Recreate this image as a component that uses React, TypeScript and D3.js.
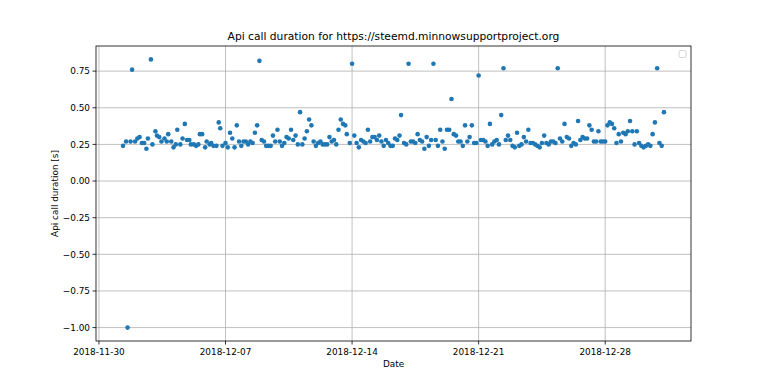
import React from "react";
import * as d3 from "d3";

const times: string[] = [
  "2018-12-01T08","2018-12-01T12","2018-12-01T14","2018-12-01T18","2018-12-01T20",
  "2018-12-02T00","2018-12-02T03","2018-12-02T06","2018-12-02T09","2018-12-02T12","2018-12-02T15","2018-12-02T17","2018-12-02T21","2018-12-02T23",
  "2018-12-03T03","2018-12-03T05","2018-12-03T08","2018-12-03T11","2018-12-03T15","2018-12-03T18","2018-12-03T20",
  "2018-12-04T00","2018-12-04T03","2018-12-04T06","2018-12-04T08","2018-12-04T12","2018-12-04T15","2018-12-04T18","2018-12-04T21",
  "2018-12-05T00","2018-12-05T02","2018-12-05T06","2018-12-05T09","2018-12-05T12","2018-12-05T14","2018-12-05T17","2018-12-05T21","2018-12-05T23",
  "2018-12-06T03","2018-12-06T05","2018-12-06T08","2018-12-06T12","2018-12-06T15","2018-12-06T17","2018-12-06T20",
  "2018-12-07T00","2018-12-07T03","2018-12-07T06","2018-12-07T09","2018-12-07T12","2018-12-07T15","2018-12-07T18","2018-12-07T21",
  "2018-12-08T00","2018-12-08T03","2018-12-08T06","2018-12-08T09","2018-12-08T12","2018-12-08T15","2018-12-08T18","2018-12-08T21",
  "2018-12-09T00","2018-12-09T03","2018-12-09T06","2018-12-09T09","2018-12-09T12","2018-12-09T15","2018-12-09T18","2018-12-09T21",
  "2018-12-10T00","2018-12-10T03","2018-12-10T06","2018-12-10T09","2018-12-10T12","2018-12-10T15","2018-12-10T18","2018-12-10T21",
  "2018-12-11T00","2018-12-11T03","2018-12-11T06","2018-12-11T09","2018-12-11T12","2018-12-11T15","2018-12-11T18","2018-12-11T21",
  "2018-12-12T00","2018-12-12T03","2018-12-12T06","2018-12-12T09","2018-12-12T12","2018-12-12T15","2018-12-12T18","2018-12-12T21",
  "2018-12-13T00","2018-12-13T03","2018-12-13T06","2018-12-13T09","2018-12-13T12","2018-12-13T15","2018-12-13T17","2018-12-13T21",
  "2018-12-14T00","2018-12-14T03","2018-12-14T06","2018-12-14T09","2018-12-14T12","2018-12-14T15","2018-12-14T18","2018-12-14T21",
  "2018-12-15T00","2018-12-15T03","2018-12-15T06","2018-12-15T09","2018-12-15T12","2018-12-15T15","2018-12-15T18","2018-12-15T21",
  "2018-12-16T00","2018-12-16T03","2018-12-16T06","2018-12-16T09","2018-12-16T12","2018-12-16T15","2018-12-16T17","2018-12-16T21",
  "2018-12-17T00","2018-12-17T03","2018-12-17T06","2018-12-17T09","2018-12-17T12","2018-12-17T15","2018-12-17T18","2018-12-17T21",
  "2018-12-18T00","2018-12-18T03","2018-12-18T06","2018-12-18T09","2018-12-18T12","2018-12-18T15","2018-12-18T18","2018-12-18T21",
  "2018-12-19T00","2018-12-19T03","2018-12-19T06","2018-12-19T09","2018-12-19T12","2018-12-19T15","2018-12-19T18","2018-12-19T21",
  "2018-12-20T00","2018-12-20T03","2018-12-20T06","2018-12-20T09","2018-12-20T12","2018-12-20T15","2018-12-20T18","2018-12-20T21",
  "2018-12-21T00","2018-12-21T03","2018-12-21T06","2018-12-21T09","2018-12-21T12","2018-12-21T15","2018-12-21T18","2018-12-21T21",
  "2018-12-22T00","2018-12-22T03","2018-12-22T06","2018-12-22T09","2018-12-22T12","2018-12-22T15","2018-12-22T18","2018-12-22T21",
  "2018-12-23T00","2018-12-23T03","2018-12-23T06","2018-12-23T09","2018-12-23T12","2018-12-23T15","2018-12-23T18","2018-12-23T21",
  "2018-12-24T00","2018-12-24T03","2018-12-24T06","2018-12-24T09","2018-12-24T12","2018-12-24T15","2018-12-24T18","2018-12-24T21",
  "2018-12-25T00","2018-12-25T03","2018-12-25T06","2018-12-25T09","2018-12-25T12","2018-12-25T15","2018-12-25T18","2018-12-25T21",
  "2018-12-26T00","2018-12-26T03","2018-12-26T06","2018-12-26T09","2018-12-26T12","2018-12-26T15","2018-12-26T18","2018-12-26T21",
  "2018-12-27T00","2018-12-27T03","2018-12-27T06","2018-12-27T09","2018-12-27T12","2018-12-27T15","2018-12-27T18","2018-12-27T21",
  "2018-12-28T00","2018-12-28T03","2018-12-28T06","2018-12-28T09","2018-12-28T12","2018-12-28T15","2018-12-28T18","2018-12-28T21",
  "2018-12-29T00","2018-12-29T03","2018-12-29T06","2018-12-29T09","2018-12-29T12","2018-12-29T15","2018-12-29T18","2018-12-29T21",
  "2018-12-30T00","2018-12-30T03","2018-12-30T06","2018-12-30T09","2018-12-30T12","2018-12-30T15","2018-12-30T18","2018-12-30T21",
  "2018-12-31T00","2018-12-31T03","2018-12-31T06",
];

const durations: number[] = [
  0.24,0.27,-1.0,0.27,0.76,
  0.27,0.29,0.30,0.26,0.26,0.22,0.29,0.83,0.25,
  0.34,0.31,0.30,0.27,0.29,0.27,0.32,
  0.27,0.23,0.25,0.35,0.25,0.29,0.39,0.28,
  0.28,0.25,0.25,0.24,0.25,0.32,0.32,0.23,0.27,
  0.25,0.26,0.24,0.24,0.40,0.36,0.24,
  0.26,0.23,0.33,0.29,0.23,0.38,0.27,0.24,
  0.27,0.27,0.25,0.27,0.26,0.33,0.38,0.82,
  0.28,0.27,0.24,0.24,0.24,0.31,0.27,0.35,
  0.27,0.24,0.26,0.30,0.29,0.35,0.28,0.31,
  0.25,0.47,0.25,0.29,0.34,0.42,0.38,0.27,
  0.24,0.26,0.27,0.25,0.25,0.25,0.30,0.27,
  0.28,0.25,0.35,0.42,0.39,0.38,0.32,0.26,
  0.80,0.31,0.26,0.23,0.28,0.27,0.26,0.35,
  0.27,0.30,0.30,0.28,0.31,0.27,0.24,0.28,
  0.26,0.24,0.24,0.29,0.28,0.31,0.45,0.26,
  0.25,0.80,0.27,0.27,0.26,0.32,0.28,0.27,
  0.22,0.30,0.24,0.28,0.80,0.28,0.24,0.35,
  0.27,0.22,0.35,0.35,0.56,0.32,0.31,0.27,
  0.27,0.24,0.38,0.27,0.30,0.38,0.26,0.26,
  0.72,0.28,0.28,0.27,0.24,0.39,0.25,0.27,
  0.28,0.25,0.45,0.77,0.28,0.31,0.28,0.24,
  0.23,0.33,0.24,0.25,0.30,0.27,0.35,0.26,
  0.26,0.25,0.24,0.23,0.26,0.31,0.26,0.25,
  0.27,0.27,0.26,0.77,0.29,0.27,0.39,0.30,
  0.29,0.24,0.26,0.25,0.41,0.28,0.30,0.29,
  0.29,0.38,0.35,0.27,0.27,0.34,0.27,0.27,
  0.27,0.38,0.40,0.39,0.36,0.26,0.32,0.27,
  0.33,0.32,0.34,0.41,0.34,0.25,0.34,0.26,
  0.24,0.23,0.24,0.25,0.24,0.32,0.40,0.77,
  0.26,0.24,0.47,
];

const xTickLabels: string[] = ["2018-11-30", "2018-12-07", "2018-12-14", "2018-12-21", "2018-12-28"];
const yTicks: number[] = [-1.0, -0.75, -0.5, -0.25, 0.0, 0.25, 0.5, 0.75];

const W = 768, H = 384;
const L = 96, R = 691, T = 46, B = 341;
const FONT = "DejaVu Sans, sans-serif";

export default function App() {
  const parse = (s: string) => new Date(s + ":00:00Z");
  const pts = times.map((t, i) => ({ t: parse(t), v: durations[i] }));
  const tExt = d3.extent(pts, (d) => d.t.getTime()) as [number, number];
  const tPad = (tExt[1] - tExt[0]) * 0.05;
  const vExt = d3.extent(pts, (d) => d.v) as [number, number];
  const vPad = (vExt[1] - vExt[0]) * 0.05;
  const x = d3.scaleUtc().domain([new Date(tExt[0] - tPad), new Date(tExt[1] + tPad)]).range([L, R]);
  const y = d3.scaleLinear().domain([vExt[0] - vPad, vExt[1] + vPad]).range([B, T]);
  const fmtY = (v: number) => d3.format(".2f")(v).replace("-", "\u2212");
  const xTicks = xTickLabels.map((s) => ({ s, px: x(new Date(s + "T00:00:00Z")) }));
  const grid = "#b0b0b0";

  return (
    <svg width={W} height={H} style={{ position: "absolute", left: 0, top: 0, background: "#fff" }}>
      <rect x={0} y={0} width={W} height={H} fill="#fff" />
      <text x={(L + R) / 2} y={40} textAnchor="middle" fontFamily={FONT} fontSize={10.7} fill="#000">
        Api call duration for https://steemd.minnowsupportproject.org
      </text>
      {/* grid */}
      {xTicks.map((t) => (
        <line key={"gx" + t.s} x1={t.px} x2={t.px} y1={T} y2={B} stroke={grid} strokeWidth={0.8} />
      ))}
      {yTicks.map((v) => (
        <line key={"gy" + v} x1={L} x2={R} y1={y(v)} y2={y(v)} stroke={grid} strokeWidth={0.8} />
      ))}
      {/* points */}
      {pts.map((d, i) => (
        <circle key={i} cx={x(d.t)} cy={y(d.v)} r={2.3} fill="#1f77b4" />
      ))}
      {/* spines */}
      <rect x={L} y={T} width={R - L} height={B - T} fill="none" stroke="#000" strokeWidth={0.8} />
      {/* x ticks */}
      {xTicks.map((t) => (
        <g key={"tx" + t.s}>
          <line x1={t.px} x2={t.px} y1={B} y2={B + 3.5} stroke="#000" strokeWidth={0.8} />
          <text x={t.px} y={B + 14} textAnchor="middle" fontFamily={FONT} fontSize={8.9} fill="#000">{t.s}</text>
        </g>
      ))}
      {/* y ticks */}
      {yTicks.map((v) => (
        <g key={"ty" + v}>
          <line x1={L - 3.5} x2={L} y1={y(v)} y2={y(v)} stroke="#000" strokeWidth={0.8} />
          <text x={L - 6} y={y(v) + 3.2} textAnchor="end" fontFamily={FONT} fontSize={8.9} fill="#000">{fmtY(v)}</text>
        </g>
      ))}
      <text x={(L + R) / 2} y={367} textAnchor="middle" fontFamily={FONT} fontSize={8.9} fill="#000">Date</text>
      <text transform={`translate(58,${(T + B) / 2}) rotate(-90)`} textAnchor="middle" fontFamily={FONT} fontSize={8.9} fill="#000">
        Api call duration [s]
      </text>
      {/* empty legend */}
      <rect x={679} y={50.5} width={7} height={7} rx={1.5} fill="#fff" fillOpacity={0.8} stroke="#cccccc" strokeWidth={0.8} />
    </svg>
  );
}
